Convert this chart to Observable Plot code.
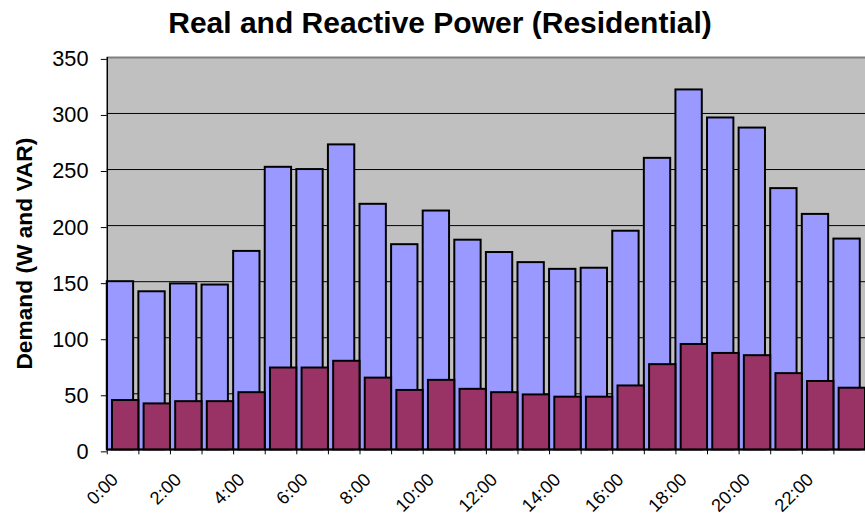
<!DOCTYPE html>
<html><head><meta charset="utf-8">
<script src="https://cdn.jsdelivr.net/npm/d3@7"></script>
<script src="https://cdn.jsdelivr.net/npm/@observablehq/plot@0.6"></script>
<style>
html,body{margin:0;padding:0;background:#fff;overflow:hidden;width:865px;height:518px}
#title{width:880px;height:50px;font:bold 30px "Liberation Sans",Arial,sans-serif;line-height:46px;text-align:center;color:#000;white-space:nowrap}
#chart svg{display:block}
</style></head><body>
<div id="title">Real and Reactive Power (Residential)</div>
<div id="chart"></div>
<script>
const hours = ["0:00","1:00","2:00","3:00","4:00","5:00","6:00","7:00","8:00","9:00","10:00","11:00",
  "12:00","13:00","14:00","15:00","16:00","17:00","18:00","19:00","20:00","21:00","22:00","23:00"];
const realPower = [150,141,148,147,177,252,250,272,219,183,213,187,176,167,161,162,195,260,321,296,287,233,210,188];
const reactivePower = [44,41,43,43,51,73,73,79,64,53,62,54,51,49,47,47,57,76,94,86,84,68,61,55];
const yTicks = [0,50,100,150,200,250,300,350];
const gridValues = [50,100,150,200,250,300];
const yLabel = "Demand (W and VAR)";

const rows = hours.map((h, i) => ({i, hour: h, real: realPower[i], reactive: reactivePower[i]}));
const boundaries = d3.range(0, hours.length + 1);
const labelPositions = d3.range(0, hours.length, 2).map(i => i + 0.5);

const chart = Plot.plot({
  width: 875,
  height: 468,
  marginLeft: 108,
  marginRight: 0,
  marginTop: 7,
  marginBottom: 64,
  x: {domain: [0, hours.length]},
  y: {domain: [0, 350]},
  style: {fontFamily: "'Liberation Sans', Arial, sans-serif", fontSize: "22px", color: "#000", background: "transparent", overflow: "visible"},
  marks: [
    Plot.frame({fill: "#c0c0c0", stroke: null}),
    Plot.ruleY(gridValues, {stroke: "#000", strokeWidth: 1}),
    Plot.ruleY([350], {stroke: "#808080", strokeWidth: 2}),
    Plot.rectY(rows, {x1: "i", x2: d => d.i + 1, y: "real", insetRight: 5.3, fill: "#9999ff", stroke: "#000", strokeWidth: 2}),
    Plot.rectY(rows, {x1: "i", x2: d => d.i + 1, y: "reactive", insetLeft: 5.3, fill: "#993366", stroke: "#000", strokeWidth: 2}),
    Plot.ruleX([0], {stroke: "#000", strokeWidth: 1.5}),
    Plot.ruleY([0], {stroke: "#000", strokeWidth: 1.5}),
    Plot.axisY({ticks: yTicks, tickSize: 6, tickPadding: 13, dy: 2, label: null, fontSize: 22}),
    Plot.axisX({ticks: boundaries, tickSize: 5, tickFormat: () => "", label: null}),
    Plot.axisX({ticks: labelPositions, tickSize: 0, tickRotate: -45, tickFormat: d => hours[Math.floor(d)], label: null, fontSize: 18.5, tickPadding: 0, dx: -8, dy: 27}),
    Plot.text([yLabel], {frameAnchor: "left", rotate: -90, dx: -84, textAnchor: "middle", fontWeight: "bold", fontSize: 23})
  ]
});
document.getElementById("chart").appendChild(chart);
</script>
</body></html>
